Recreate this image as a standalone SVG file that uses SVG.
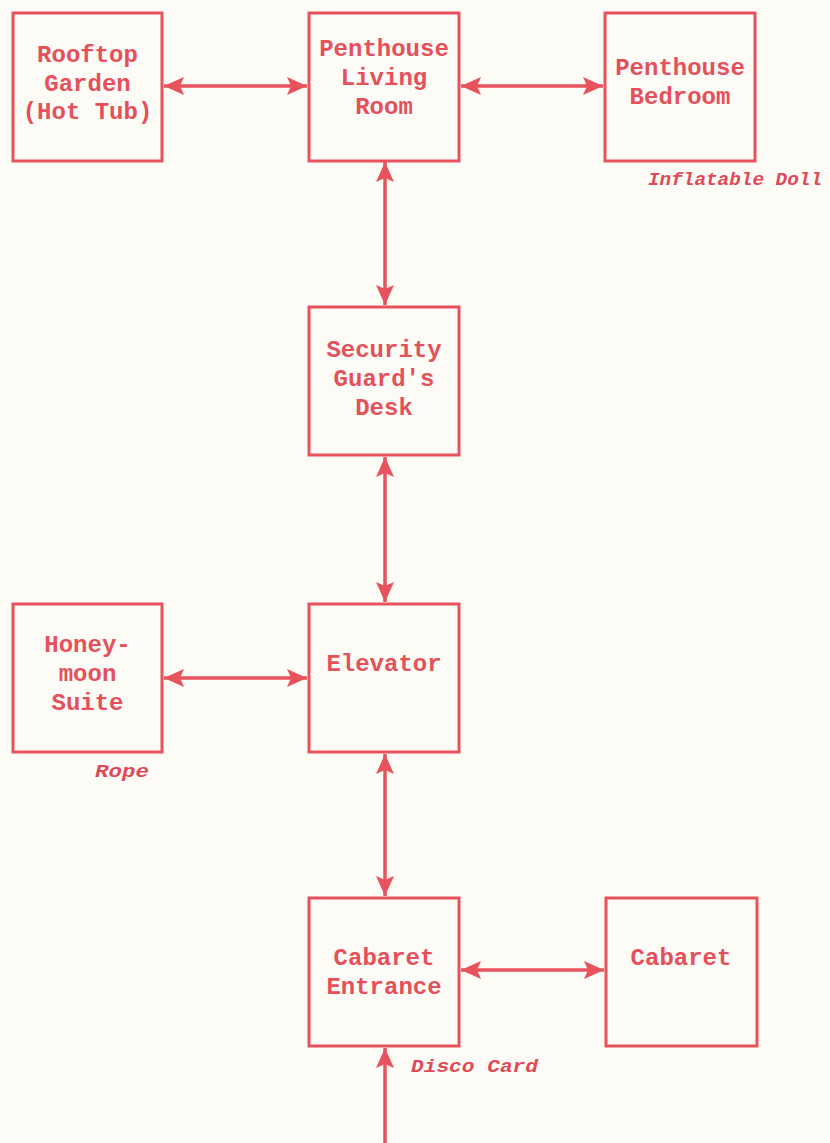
<svg xmlns="http://www.w3.org/2000/svg" width="830" height="1143" viewBox="0 0 830 1143">
<style>
.box{fill:none;stroke:#e8525c;stroke-width:3}
.t{font-family:"Liberation Mono","DejaVu Sans Mono",monospace;font-weight:bold;font-size:24px;fill:#e5505a;text-anchor:middle}
.n{font-family:"Liberation Mono","DejaVu Sans Mono",monospace;font-weight:bold;font-style:italic;font-size:19px;fill:#e04a58}
.c{stroke:#e8525c;stroke-width:3.5;fill:none}
</style>
<defs>
<marker id="ah" markerUnits="userSpaceOnUse" markerWidth="24" markerHeight="20" refX="20" refY="9" orient="auto-start-reverse" viewBox="0 0 24 20">
<path d="M0,0 L20,9 L0,18 L4,9 Z" fill="#e8525c"/>
</marker>
</defs>
<rect width="830" height="1143" fill="#fcfbf6"/>
<g id="connectors">
<line class="c" x1="164" y1="86" x2="307" y2="86" marker-start="url(#ah)" marker-end="url(#ah)"/>
<line class="c" x1="461" y1="86" x2="603" y2="86" marker-start="url(#ah)" marker-end="url(#ah)"/>
<line class="c" x1="385" y1="162" x2="385" y2="305" marker-start="url(#ah)" marker-end="url(#ah)"/>
<line class="c" x1="385" y1="457" x2="385" y2="602" marker-start="url(#ah)" marker-end="url(#ah)"/>
<line class="c" x1="164" y1="678" x2="307" y2="678" marker-start="url(#ah)" marker-end="url(#ah)"/>
<line class="c" x1="385" y1="754" x2="385" y2="896" marker-start="url(#ah)" marker-end="url(#ah)"/>
<line class="c" x1="461" y1="970" x2="604" y2="970" marker-start="url(#ah)" marker-end="url(#ah)"/>
<line class="c" x1="385" y1="1143" x2="385" y2="1048" marker-end="url(#ah)"/>
</g>
<g id="rooftop">
<rect class="box" x="13" y="13" width="149" height="148"/>
<text class="t"><tspan x="87.5" y="62">Rooftop</tspan><tspan x="87.5" y="91">Garden</tspan><tspan x="87.5" y="119">(Hot Tub)</tspan></text>
</g>
<g id="living">
<rect class="box" x="309" y="13" width="150" height="148"/>
<text class="t"><tspan x="384" y="56">Penthouse</tspan><tspan x="384" y="85">Living</tspan><tspan x="384" y="114">Room</tspan></text>
</g>
<g id="bedroom">
<rect class="box" x="605" y="13" width="150" height="148"/>
<text class="t"><tspan x="680" y="75">Penthouse</tspan><tspan x="680" y="104">Bedroom</tspan></text>
<text class="n" x="648" y="185" textLength="174" lengthAdjust="spacingAndGlyphs">Inflatable Doll</text>
</g>
<g id="security">
<rect class="box" x="309" y="307" width="150" height="148"/>
<text class="t"><tspan x="384" y="357">Security</tspan><tspan x="384" y="386">Guard's</tspan><tspan x="384" y="415">Desk</tspan></text>
</g>
<g id="honeymoon">
<rect class="box" x="13" y="604" width="149" height="148"/>
<text class="t"><tspan x="87.5" y="652">Honey-</tspan><tspan x="87.5" y="681">moon</tspan><tspan x="87.5" y="710">Suite</tspan></text>
<text class="n" x="95" y="777" textLength="54" lengthAdjust="spacingAndGlyphs">Rope</text>
</g>
<g id="elevator">
<rect class="box" x="309" y="604" width="150" height="148"/>
<text class="t" x="384" y="671">Elevator</text>
</g>
<g id="cabaret-entrance">
<rect class="box" x="309" y="898" width="150" height="148"/>
<text class="t"><tspan x="384" y="965">Cabaret</tspan><tspan x="384" y="994">Entrance</tspan></text>
<text class="n" x="411" y="1072" textLength="127" lengthAdjust="spacingAndGlyphs">Disco Card</text>
</g>
<g id="cabaret">
<rect class="box" x="606" y="898" width="151" height="148"/>
<text class="t" x="681" y="965">Cabaret</text>
</g>
</svg>
